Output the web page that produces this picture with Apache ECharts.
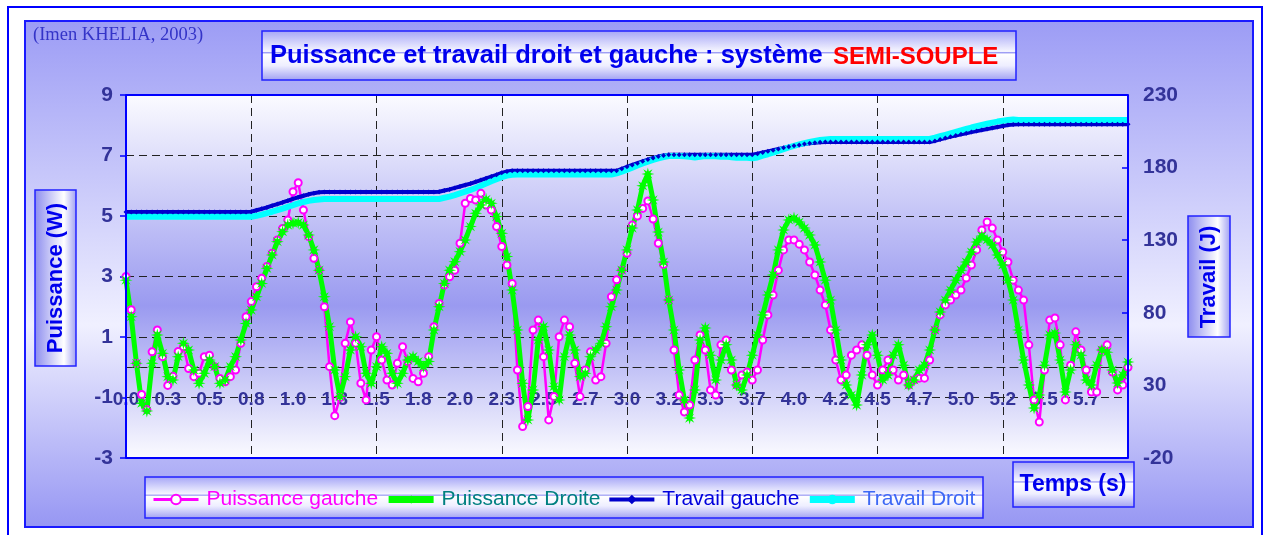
<!DOCTYPE html>
<html>
<head>
<meta charset="utf-8">
<title>Puissance et travail droit et gauche</title>
<script src="https://cdn.jsdelivr.net/npm/echarts@6/dist/echarts.min.js"></script>
<style>
  html, body { margin: 0; padding: 0; background: #ffffff; }
  #chart { width: 1270px; height: 535px; }
</style>
</head>
<body>
<div id="chart"></div>
<script>
// Time axis: one sample every 1/8 of a label step, labels every 8 samples
const samplesPerLabel = 8;
const timeLabels = ['0.0', '0.3', '0.5', '0.8', '1.0', '1.3', '1.5', '1.8', '2.0', '2.3', '2.5', '2.7',
                    '3.0', '3.2', '3.5', '3.7', '4.0', '4.2', '4.5', '4.7', '5.0', '5.2', '5.5', '5.7'];

// Puissance (W), left foot
const puissanceGauche = [
  3.0, 1.9, 0.13, -0.9, -1.4, 0.51, 1.23, 0.35, -0.6, -0.3,
  0.52, 0.68, -0.04, -0.31, -0.2, 0.35, 0.4, 0.02, -0.37, -0.48,
  -0.31, -0.09, 0.79, 1.67, 2.17, 2.66, 2.94, 3.33, 3.77, 4.21,
  4.59, 4.87, 5.8, 6.1, 5.2, 4.32, 3.6, 3.21, 2.0, 0.02,
  -1.6, -1.0, 0.79, 1.5, 0.79, -0.53, -1.08, 0.57, 1.01, 0.24,
  -0.42, -0.59, 0.13, 0.68, 0.19, -0.37, -0.48, -0.2, 0.35, 1.34,
  2.11, 2.72, 2.99, 3.21, 4.1, 5.42, 5.58, 5.53, 5.75, 5.36,
  5.2, 4.65, 3.99, 3.38, 2.77, -0.09, -1.96, -1.3, 1.23, 1.56,
  0.35, -1.74, -0.97, 1.01, 1.56, 1.34, 0.13, -0.97, -0.09, 0.51,
  -0.42, -0.31, 0.79, 2.33, 2.89, 3.21, 3.77, 4.7, 5.0, 5.25,
  5.5, 4.9, 4.1, 3.4, 2.22, 0.57, -0.92, -1.48, -1.25, 0.24,
  1.07, 0.57, -0.75, -0.92, 0.74, 0.9, -0.09, -0.59, -0.26, -0.16,
  -0.42, -0.09, 0.9, 1.73, 2.39, 3.21, 3.88, 4.21, 4.21, 4.07,
  3.88, 3.48, 3.05, 2.55, 2.06, 1.23, 0.24, -0.42, -0.26, 0.4,
  0.57, 0.74, 0.4, -0.26, -0.59, -0.09, 0.24, -0.09, -0.42, -0.26,
  -0.59, -0.42, -0.36, -0.36, 0.24, 1.23, 1.73, 2.06, 2.22, 2.39,
  2.55, 2.95, 3.38, 3.88, 4.54, 4.8, 4.6, 4.21, 3.81, 3.48,
  2.88, 2.55, 2.22, 0.74, -1.08, -1.81, -0.09, 1.56, 1.63, 0.74,
  -1.08, 0.07, 1.17, 0.57, -0.09, -0.82, -0.82, 0.57, 0.74, -0.16,
  -0.75, -0.59, 0.0
];

// Puissance (W), right foot
const puissanceDroite = [
  2.88, 1.67, 0.13, -1.19, -1.45, 0.13, 1.07, 0.46, -0.31, -0.42,
  0.35, 0.79, 0.57, -0.09, -0.53, -0.2, 0.24, 0.02, -0.53, -0.42,
  0.02, 0.35, 0.9, 1.45, 1.89, 2.33, 2.77, 3.27, 3.71, 4.15,
  4.48, 4.7, 4.76, 4.78, 4.7, 4.37, 3.88, 3.21, 2.33, 1.34,
  -0.09, -0.97, -0.31, 0.57, 1.01, 0.68, -0.2, -0.53, 0.02, 0.68,
  0.46, -0.2, -0.53, -0.2, 0.24, 0.35, 0.19, 0.02, 0.19, 1.23,
  2.0, 2.77, 3.21, 3.49, 3.82, 4.21, 4.65, 5.09, 5.36, 5.55,
  5.42, 4.98, 4.43, 3.66, 2.55, 1.23, -0.53, -1.74, -0.75, 0.9,
  1.34, 0.57, -0.64, -1.08, 0.35, 1.07, 0.57, -0.31, -0.2, 0.35,
  0.57, 0.79, 1.34, 2.0, 2.55, 3.21, 3.88, 4.6, 5.2, 6.0,
  6.39, 5.53, 4.47, 3.48, 2.22, 1.23, -0.09, -1.08, -1.68, -0.75,
  0.9, 1.3, 0.4, -0.42, 0.24, 0.74, 0.24, -0.59, -0.75, -0.26,
  0.4, 1.07, 1.73, 2.39, 3.05, 3.88, 4.54, 4.87, 4.93, 4.8,
  4.6, 4.37, 4.04, 3.48, 2.88, 2.22, 1.23, 0.24, -0.59, -0.92,
  -1.25, -0.26, 0.74, 1.07, 0.4, -0.42, -0.26, 0.4, 0.74, 0.07,
  -0.59, -0.42, -0.09, 0.07, 0.57, 1.23, 1.83, 2.22, 2.55, 2.88,
  3.21, 3.48, 3.81, 4.14, 4.34, 4.21, 4.04, 3.71, 3.38, 2.88,
  2.22, 1.23, 0.24, -0.59, -1.35, -0.92, 0.07, 1.07, 1.13, 0.24,
  -0.82, -0.09, 0.74, 0.4, -0.42, -0.59, 0.07, 0.57, 0.5, -0.09,
  -0.52, -0.26, 0.17
];

// Travail (J), left foot
const travailGauche = [
  149.5, 149.5, 149.5, 149.5, 149.5, 149.5, 149.5, 149.5, 149.5, 149.5,
  149.5, 149.5, 149.5, 149.5, 149.5, 149.5, 149.5, 149.5, 149.5, 149.5,
  149.5, 149.5, 149.5, 149.5, 149.6, 150.6, 151.6, 152.6, 153.8, 154.9,
  156.0, 157.2, 158.5, 159.6, 160.6, 161.6, 162.4, 163.0, 163.2, 163.2,
  163.2, 163.2, 163.2, 163.2, 163.2, 163.2, 163.2, 163.2, 163.2, 163.2,
  163.2, 163.2, 163.2, 163.2, 163.2, 163.2, 163.2, 163.2, 163.2, 163.2,
  163.4, 164.2, 165.0, 166.0, 167.0, 168.0, 169.0, 170.2, 171.4, 172.6,
  173.8, 175.0, 176.4, 177.4, 177.8, 177.8, 177.8, 177.8, 177.8, 177.8,
  177.8, 177.8, 177.8, 177.8, 177.8, 177.8, 177.8, 177.8, 177.8, 177.8,
  177.8, 177.8, 177.8, 177.8, 177.8, 179.2, 180.5, 181.8, 183.0, 184.3,
  185.5, 186.6, 187.6, 188.3, 188.8, 188.8, 188.8, 188.8, 188.8, 188.8,
  188.8, 188.8, 188.8, 188.8, 188.8, 188.8, 188.8, 188.8, 188.8, 188.8,
  188.8, 189.6, 190.4, 191.2, 192.0, 192.8, 193.6, 194.3, 195.0, 195.6,
  196.2, 196.7, 197.1, 197.4, 197.6, 197.6, 197.6, 197.6, 197.6, 197.6,
  197.6, 197.6, 197.6, 197.6, 197.6, 197.6, 197.6, 197.6, 197.6, 197.6,
  197.6, 197.6, 197.6, 197.6, 197.6, 198.4, 199.4, 200.4, 201.3, 202.1,
  202.9, 203.7, 204.5, 205.2, 205.9, 206.6, 207.3, 208.0, 208.7, 209.3,
  209.7, 209.9, 209.9, 209.9, 209.9, 209.9, 209.9, 209.9, 209.9, 209.9,
  209.9, 209.9, 209.9, 209.9, 209.9, 209.9, 209.9, 209.9, 209.9, 209.9,
  209.9, 209.9, 209.9
];

// Travail (J), right foot
const travailDroit = [
  146.2, 146.2, 146.2, 146.2, 146.2, 146.2, 146.2, 146.2, 146.2, 146.2,
  146.2, 146.2, 146.2, 146.2, 146.2, 146.2, 146.2, 146.2, 146.2, 146.2,
  146.2, 146.2, 146.2, 146.2, 146.2, 146.8, 147.6, 148.6, 149.6, 150.7,
  151.8, 153.0, 154.2, 155.3, 156.3, 157.1, 157.7, 158.1, 158.3, 158.4,
  158.4, 158.4, 158.4, 158.4, 158.4, 158.4, 158.4, 158.4, 158.4, 158.4,
  158.4, 158.4, 158.4, 158.4, 158.4, 158.4, 158.4, 158.4, 158.4, 158.4,
  158.4, 159.2, 160.0, 161.0, 162.2, 163.4, 164.6, 166.0, 167.5, 169.0,
  170.6, 172.0, 173.4, 174.5, 175.0, 175.2, 175.2, 175.2, 175.2, 175.2,
  175.2, 175.2, 175.2, 175.2, 175.2, 175.2, 175.2, 175.2, 175.2, 175.2,
  175.2, 175.2, 175.2, 175.2, 176.0, 177.2, 178.6, 180.0, 181.4, 182.8,
  184.1, 185.3, 186.4, 187.3, 188.0, 188.0, 188.0, 187.8, 187.4, 187.0,
  187.4, 187.9, 188.0, 187.8, 187.5, 187.6, 187.2, 186.8, 187.0, 186.7,
  186.5, 187.0, 188.2, 189.2, 190.3, 191.5, 192.7, 193.9, 195.0, 196.0,
  196.9, 197.7, 198.4, 199.0, 199.4, 199.7, 199.7, 199.7, 199.7, 199.7,
  199.7, 199.7, 199.7, 199.7, 199.7, 199.7, 199.7, 199.7, 199.7, 199.7,
  199.7, 199.7, 199.7, 199.7, 199.7, 200.6, 201.6, 202.6, 203.6, 204.6,
  205.6, 206.6, 207.6, 208.5, 209.4, 210.2, 211.0, 211.7, 212.3, 212.8,
  213.1, 212.8, 212.8, 212.8, 212.8, 212.8, 212.8, 212.8, 212.8, 212.8,
  212.8, 212.8, 212.8, 212.8, 212.8, 212.8, 212.8, 212.8, 212.8, 212.8,
  212.8, 212.8, 212.8
];

const lastSample = puissanceGauche.length - 1;
const withIndex = (arr) => arr.map((v, i) => [i, v]);

const FONT = "'Liberation Sans', Arial, sans-serif";
const TICK_COLOR = '#333399';
const DASH = [8, 5];
const FRAME_BLUE = '#0000ff';

// Eight-branch star used as the marker of the right-foot power curve
function starSymbol(branches, inner) {
  let d = '';
  for (let k = 0; k < branches * 2; k++) {
    const a = k * Math.PI / branches - Math.PI / 2;
    const r = k % 2 ? inner : 10;
    d += (k ? 'L' : 'M') + (10 + r * Math.cos(a)).toFixed(2) + ' ' + (10 + r * Math.sin(a)).toFixed(2);
  }
  return 'path://' + d + 'Z';
}

const LG = echarts.graphic.LinearGradient;
const bandFill = () => new LG(0, 0, 0, 1, [
  { offset: 0, color: '#a4a4f6' }, { offset: 0.42, color: '#f6f6ff' },
  { offset: 0.445, color: '#8c8cf2' }, { offset: 0.47, color: '#ffffff' },
  { offset: 0.7, color: '#eeeeff' }, { offset: 1, color: '#9e9ef2' }
]);
const pillarFill = () => new LG(0, 0, 1, 0, [
  { offset: 0, color: '#8a8aee' }, { offset: 0.7, color: '#ffffff' }, { offset: 1, color: '#9c9cf2' }
]);
const frameLine = (x1, y1, x2, y2) => ({
  type: 'line', z: 50, silent: true, shape: { x1, y1, x2, y2 },
  style: { stroke: FRAME_BLUE, lineWidth: 2 }
});

const chart = echarts.init(document.getElementById('chart'), null, { renderer: 'canvas' });

chart.setOption({
  animation: false,
  backgroundColor: 'transparent',
  graphic: [
    { type: 'rect', z: -30, silent: true, shape: { x: 8, y: 7, width: 1254, height: 540 },
      style: { fill: '#ffffff', stroke: FRAME_BLUE, lineWidth: 2 } },
    { type: 'rect', z: -20, silent: true, shape: { x: 25, y: 21, width: 1228, height: 506 },
      style: { fill: new LG(0, 0, 0, 1, [
        { offset: 0, color: '#9c9cf5' }, { offset: 0.6, color: '#f0f0ff' }, { offset: 1, color: '#9696f3' }
      ]), stroke: '#1a1aff', lineWidth: 2 } },
    { type: 'text', z: 10, silent: true, x: 33, y: 35,
      style: { text: '(Imen KHELIA, 2003)', font: "18.5px 'Liberation Serif', 'Times New Roman', serif",
               fill: '#3434c8', verticalAlign: 'middle' } },
    { type: 'rect', z: 10, silent: true, shape: { x: 262, y: 31, width: 754, height: 49 },
      style: { fill: bandFill(), stroke: '#2222ff', lineWidth: 1.5 } },
    { type: 'text', z: 11, silent: true, x: 270, y: 56,
      style: { text: 'Puissance et travail droit et gauche : système', font: 'bold 25.5px ' + FONT,
               fill: '#0000ee', verticalAlign: 'middle' } },
    { type: 'text', z: 11, silent: true, x: 833, y: 57,
      style: { text: 'SEMI-SOUPLE', font: 'bold 24px ' + FONT, fill: '#ff0000', verticalAlign: 'middle' } },
    { type: 'rect', z: 10, silent: true, shape: { x: 35, y: 190, width: 41, height: 176 },
      style: { fill: pillarFill(), stroke: '#2222ff', lineWidth: 1.5 } },
    { type: 'text', z: 11, silent: true, x: 56, y: 278, rotation: Math.PI / 2,
      style: { text: 'Puissance (W)', font: 'bold 22px ' + FONT, fill: '#0000ee', align: 'center', verticalAlign: 'middle' } },
    { type: 'rect', z: 10, silent: true, shape: { x: 1188, y: 216, width: 42, height: 121 },
      style: { fill: pillarFill(), stroke: '#2222ff', lineWidth: 1.5 } },
    { type: 'text', z: 11, silent: true, x: 1209, y: 277, rotation: Math.PI / 2,
      style: { text: 'Travail (J)', font: 'bold 22px ' + FONT, fill: '#0000ee', align: 'center', verticalAlign: 'middle' } },
    { type: 'rect', z: 10, silent: true, shape: { x: 1013, y: 462, width: 121, height: 45 },
      style: { fill: bandFill(), stroke: '#2222ff', lineWidth: 1.5 } },
    { type: 'text', z: 11, silent: true, x: 1073, y: 485,
      style: { text: 'Temps (s)', font: 'bold 23px ' + FONT, fill: '#0000ee', align: 'center', verticalAlign: 'middle' } },
    { type: 'rect', z: 1, silent: true, shape: { x: 145, y: 477, width: 838, height: 41 },
      style: { fill: bandFill(), stroke: '#2222ff', lineWidth: 1.5 } },
    // plot frame
    frameLine(126, 95, 1128, 95),
    frameLine(126, 458, 1128, 458),
    frameLine(126, 95, 126, 458),
    frameLine(1128, 95, 1128, 458)
  ],
  grid: {
    left: 126, top: 95, right: 142, bottom: 77,
    outerBoundsMode: 'none',
    show: true, borderWidth: 0,
    backgroundColor: { type: 'linear', x: 0, y: 0, x2: 0, y2: 1, colorStops: [
      { offset: 0, color: '#fbfbff' }, { offset: 0.58, color: '#9a9af0' }, { offset: 1, color: '#fbfbff' }
    ] }
  },
  legend: {
    left: 147, top: 484,
    itemWidth: 45, itemHeight: 12, itemGap: 7,
    textStyle: { fontSize: 21, fontFamily: FONT, padding: [0, 0, 0, 3] },
    data: [
      { name: 'Puissance gauche', textStyle: { color: '#ff00ff' }, lineStyle: { width: 3 } },
      { name: 'Puissance Droite', textStyle: { color: '#008080' }, lineStyle: { width: 7 } },
      { name: 'Travail gauche', textStyle: { color: '#0000dd' }, lineStyle: { width: 4 } },
      { name: 'Travail Droit', textStyle: { color: '#3d68f5' }, lineStyle: { width: 7 } }
    ]
  },
  xAxis: [
    {
      // time axis; its line is the dashed zero line of the power scale (3 units above the floor)
      type: 'value', position: 'bottom', min: 0, max: lastSample, interval: samplesPerLabel,
      offset: -90.75,
      axisLine: { show: true, onZero: false, lineStyle: { color: '#222222', width: 1, type: DASH } },
      axisTick: { show: false },
      axisLabel: {
        formatter: (v) => timeLabels[Math.round(v / samplesPerLabel)] || '',
        color: TICK_COLOR, fontSize: 19, fontWeight: 'bold', fontFamily: FONT, margin: 23,
        showMinLabel: true, showMaxLabel: true
      },
      splitLine: { show: false }
    },
    {
      // vertical dashed gridlines every three labels
      type: 'value', position: 'top', min: 0, max: lastSample, interval: samplesPerLabel * 3,
      axisLine: { show: false }, axisTick: { show: false }, axisLabel: { show: false },
      splitLine: { show: true, lineStyle: { color: '#222222', width: 1, type: DASH } }
    }
  ],
  yAxis: [
    {
      type: 'value', position: 'left', min: -3, max: 9, interval: 2,
      axisLine: { show: true, onZero: false, lineStyle: { color: FRAME_BLUE, width: 2 } },
      axisTick: { show: true, length: 6, lineStyle: { color: FRAME_BLUE, width: 1.5 } },
      axisLabel: { color: TICK_COLOR, fontSize: 21, fontWeight: 'bold', fontFamily: FONT, margin: 13 },
      splitLine: { show: true, lineStyle: { color: '#222222', width: 1, type: DASH } }
    },
    {
      type: 'value', position: 'right', min: -20, max: 230, interval: 50,
      axisLine: { show: true, onZero: false, lineStyle: { color: FRAME_BLUE, width: 2 } },
      axisTick: { show: true, inside: true, length: 6, lineStyle: { color: FRAME_BLUE, width: 1.5 } },
      axisLabel: { color: TICK_COLOR, fontSize: 21, fontWeight: 'bold', fontFamily: FONT, margin: 15 },
      splitLine: { show: false }
    }
  ],
  series: [
    {
      name: 'Puissance gauche', type: 'line', xAxisIndex: 0, yAxisIndex: 0, data: withIndex(puissanceGauche),
      symbol: 'circle', symbolSize: 7, showAllSymbol: true,
      lineStyle: { color: '#ff00ff', width: 2.5 },
      itemStyle: { color: '#ffffff', borderColor: '#ff00ff', borderWidth: 2 }
    },
    {
      name: 'Puissance Droite', type: 'line', xAxisIndex: 0, yAxisIndex: 0, data: withIndex(puissanceDroite),
      symbol: starSymbol(8, 4), symbolSize: 13, showAllSymbol: true,
      lineStyle: { color: '#00ff00', width: 5 },
      itemStyle: { color: '#00ff00' }
    },
    {
      name: 'Travail gauche', type: 'line', xAxisIndex: 0, yAxisIndex: 1, data: withIndex(travailGauche),
      symbol: 'diamond', symbolSize: 5, showAllSymbol: true,
      lineStyle: { color: '#0000cc', width: 4 },
      itemStyle: { color: '#0000cc' }
    },
    {
      name: 'Travail Droit', type: 'line', xAxisIndex: 0, yAxisIndex: 1, data: withIndex(travailDroit),
      symbol: 'none',
      lineStyle: { color: '#00ffff', width: 6 },
      itemStyle: { color: '#00ffff' }
    }
  ]
});
</script>
</body>
</html>
